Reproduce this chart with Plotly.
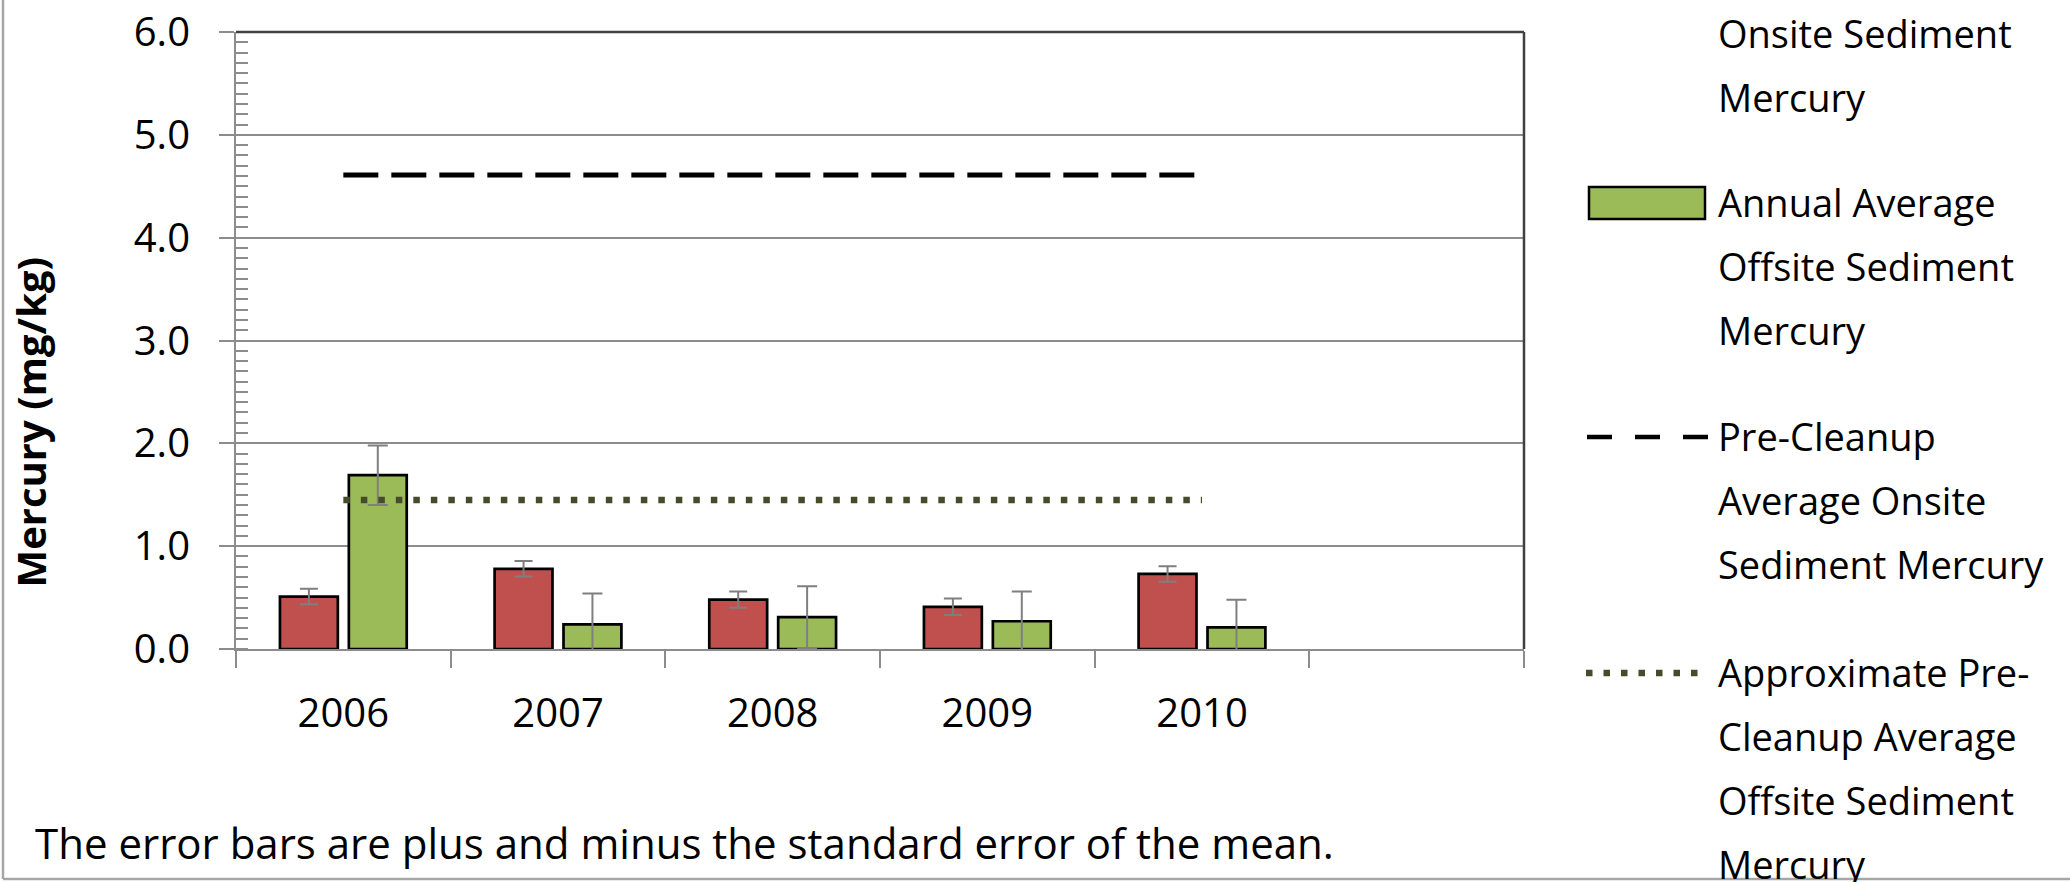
import plotly.graph_objects as go

# ---------------- data ----------------
years = ["2006", "2007", "2008", "2009", "2010"]
axis_categories = ["2006", "2007", "2008", "2009", "2010", " "]

onsite_mean = [0.51, 0.78, 0.48, 0.41, 0.73]
onsite_se = [0.075, 0.075, 0.08, 0.08, 0.075]

offsite_mean = [1.69, 0.24, 0.31, 0.27, 0.21]
offsite_se = [0.29, 0.30, 0.30, 0.29, 0.27]

pre_onsite = [4.61, 4.61, 4.61, 4.61, 4.61]
pre_offsite = [1.45, 1.45, 1.45, 1.45, 1.45]

y_tick_vals = [0, 1, 2, 3, 4, 5, 6]
y_tick_text = ["0.0", "1.0", "2.0", "3.0", "4.0", "5.0", "6.0"]

legend_lines = [
    ["Annual Average", "Onsite Sediment", "Mercury"],
    ["Annual Average", "Offsite Sediment", "Mercury"],
    ["Pre-Cleanup", "Average Onsite", "Sediment Mercury"],
    ["Approximate Pre-", "Cleanup Average", "Offsite Sediment", "Mercury"],
]
series_names = [
    "Annual Average Onsite Sediment Mercury",
    "Annual Average Offsite Sediment Mercury",
    "Pre-Cleanup Average Onsite Sediment Mercury",
    "Approximate Pre-Cleanup Average Offsite Sediment Mercury",
]
y_title = "Mercury (mg/kg)"
footnote = "The error bars are plus and minus the standard error of the mean."

# ---------------- style / layout constants ----------------
W, H = 2070, 882
L, R, T, B = 236, 1524, 32, 649
FONT = "Open Sans"
RED = "#C0504D"
GREEN = "#9BBB59"
OLIVE = "#474B2C"
GRID = "#8C8C8C"
ERR = "#7F7F7F"


def xp(px):
    return (px - L) / (R - L)


def yp(py):
    return (B - py) / (B - T)


fig = go.Figure()

fig.add_trace(go.Bar(
    x=years, y=onsite_mean, name=series_names[0], showlegend=False,
    marker=dict(color=RED, line=dict(color="#000000", width=2.7)),
    error_y=dict(type="data", array=onsite_se, color=ERR, thickness=2, width=9),
))
fig.add_trace(go.Bar(
    x=years, y=offsite_mean, name=series_names[1], showlegend=False,
    marker=dict(color=GREEN, line=dict(color="#000000", width=2.7)),
    error_y=dict(type="data", array=offsite_se, color=ERR, thickness=2, width=10),
))
fig.add_trace(go.Scatter(
    x=years, y=pre_onsite, name=series_names[2], showlegend=False, mode="lines",
    line=dict(color="#000000", width=5, dash="35px,13px"),
))
fig.add_trace(go.Scatter(
    x=years, y=pre_offsite, name=series_names[3], showlegend=False, mode="lines",
    line=dict(color=OLIVE, width=6.5, dash="6.5px,11px"),
))

shapes = [
    # plot-area border (top and right)
    dict(type="line", xref="x domain", yref="y domain", x0=0, x1=1, y0=1, y1=1,
         line=dict(color="#404040", width=2.5)),
    dict(type="line", xref="x domain", yref="y domain", x0=1, x1=1, y0=0, y1=1,
         line=dict(color="#404040", width=2.5)),
    # outer chart border (left and bottom visible)
    dict(type="line", xref="paper", yref="paper", x0=xp(3), x1=xp(3), y0=yp(-10), y1=yp(879),
         line=dict(color="#A6A6A6", width=2.5)),
    dict(type="line", xref="paper", yref="paper", x0=xp(3), x1=xp(2080), y0=yp(879), y1=yp(879),
         line=dict(color="#A6A6A6", width=2.5)),
]

annotations = []
# y-axis title
annotations.append(dict(
    text="<b>" + y_title + "</b>", xref="paper", yref="paper",
    x=xp(30), y=yp(422.5), xanchor="center", yanchor="middle",
    textangle=-90, showarrow=False, font=dict(family=FONT, size=40, color="#000000"),
))
# footnote
annotations.append(dict(
    text=footnote, xref="paper", yref="paper", x=xp(33), y=yp(842),
    xanchor="left", yanchor="middle", showarrow=False,
    font=dict(family=FONT, size=42, color="#000000"),
))

# manual legend
LEG_FS = 38
LINE_SP = 64
item_first_baseline = [-16, 217, 451, 687]
text_x = 1716
sw_x0, sw_x1 = 1589, 1705
for lines, base in zip(legend_lines, item_first_baseline):
    for i, ln in enumerate(lines):
        bl = base + i * LINE_SP
        annotations.append(dict(
            text=ln, xref="paper", yref="paper", x=xp(text_x), y=yp(bl - 0.388 * LEG_FS),
            xanchor="left", yanchor="middle", showarrow=False,
            font=dict(family=FONT, size=LEG_FS, color="#000000"),
        ))

sw_c = [b - 14 for b in item_first_baseline]
shapes += [
    dict(type="rect", xref="paper", yref="paper", x0=xp(sw_x0), x1=xp(sw_x1),
         y0=yp(sw_c[0] - 16), y1=yp(sw_c[0] + 16), fillcolor=RED,
         line=dict(color="#000000", width=2.5)),
    dict(type="rect", xref="paper", yref="paper", x0=xp(sw_x0), x1=xp(sw_x1),
         y0=yp(sw_c[1] - 16), y1=yp(sw_c[1] + 16), fillcolor=GREEN,
         line=dict(color="#000000", width=2.5)),
    dict(type="line", xref="paper", yref="paper", x0=xp(1587), x1=xp(1708),
         y0=yp(sw_c[2]), y1=yp(sw_c[2]), line=dict(color="#000000", width=4.5, dash="25px,23px")),
    dict(type="line", xref="paper", yref="paper", x0=xp(1586), x1=xp(1700),
         y0=yp(sw_c[3]), y1=yp(sw_c[3]), line=dict(color=OLIVE, width=6.5, dash="6.5px,11px")),
]

fig.update_layout(
    width=W, height=H,
    margin=dict(l=L, r=W - R, t=T, b=H - B, autoexpand=False),
    paper_bgcolor="#FFFFFF", plot_bgcolor="#FFFFFF",
    barmode="group", bargap=0.358, bargroupgap=0.16,
    showlegend=False,
    font=dict(family=FONT, color="#000000"),
    shapes=shapes, annotations=annotations,
)
fig.update_xaxes(
    type="category", categoryorder="array", categoryarray=axis_categories,
    range=[-0.5, 5.5], tickson="boundaries", ticks="outside", ticklen=17,
    tickwidth=2, tickcolor=GRID, showline=True, linecolor=GRID, linewidth=2,
    showgrid=False, zeroline=False, tickfont=dict(family=FONT, size=40, color="#000000"),
    ticklabelstandoff=28,
)
fig.update_yaxes(
    range=[0, 6], tickvals=y_tick_vals, ticktext=y_tick_text,
    ticks="outside", ticklen=15, tickwidth=2, tickcolor=GRID,
    showline=True, linecolor=GRID, linewidth=2,
    showgrid=True, gridcolor=GRID, gridwidth=2, zeroline=False,
    minor=dict(dtick=0.1, tick0=0, ticks="inside", ticklen=12, tickwidth=2,
               tickcolor=GRID, showgrid=False),
    tickfont=dict(family=FONT, size=40, color="#000000"),
    ticklabelstandoff=21,
)

fig.write_html(
    "out.html",
    config={"displayModeBar": False},
    post_script="document.body.style.margin='0px';document.body.style.overflow='hidden';",
)
